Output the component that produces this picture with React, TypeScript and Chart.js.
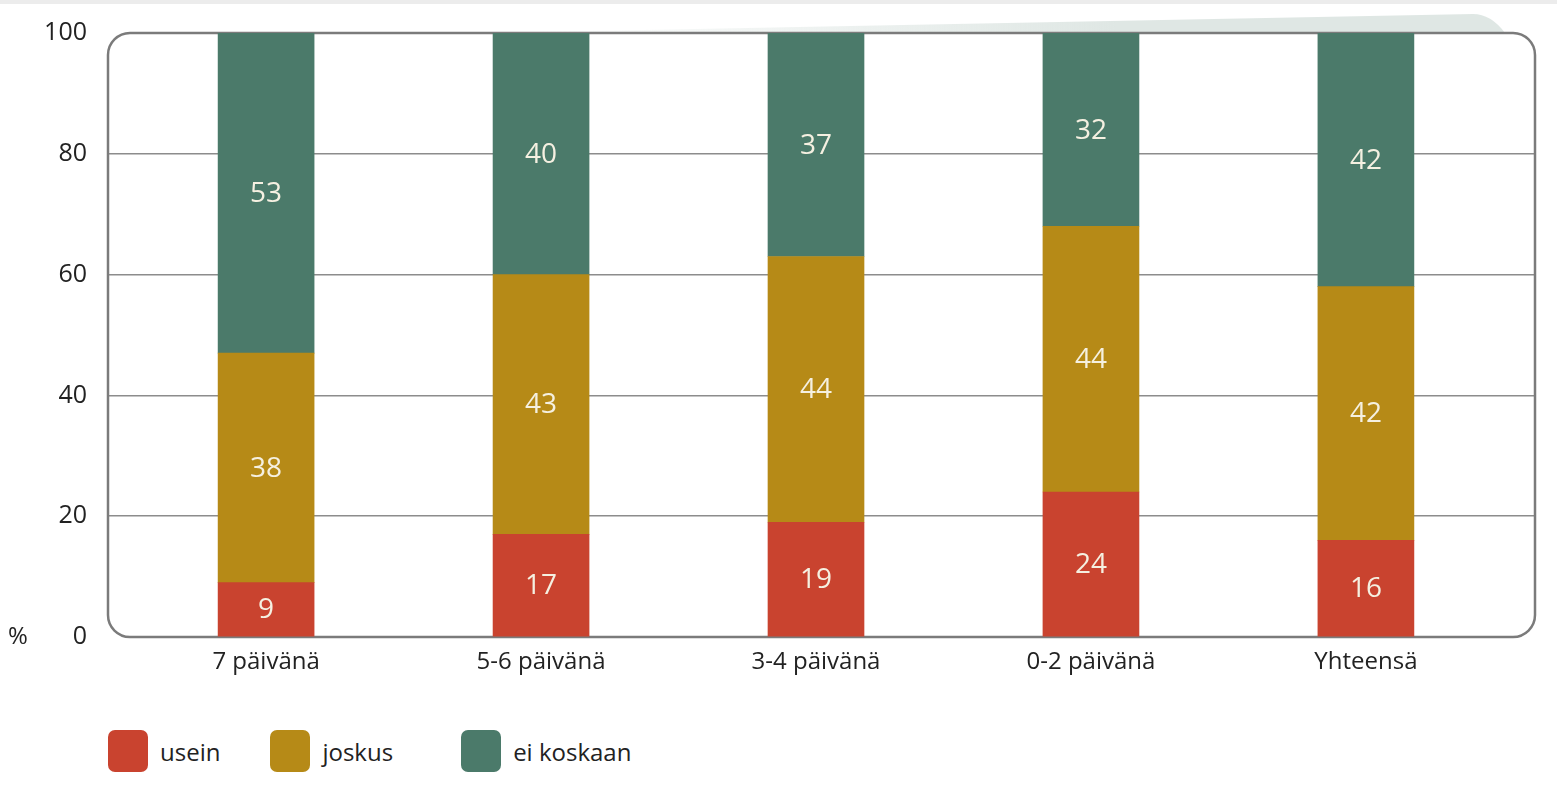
import React, { useEffect, useRef } from "react";
import { Chart, registerables } from "chart.js";

Chart.register(...registerables);

// Stacked shares (%) per group
const categories = ["7 päivänä", "5-6 päivänä", "3-4 päivänä", "0-2 päivänä", "Yhteensä"];
const usein = [9, 17, 19, 24, 16];
const joskus = [38, 43, 44, 44, 42];
const eiKoskaan = [53, 40, 37, 32, 42];
const seriesNames = ["usein", "joskus", "ei koskaan"];
const seriesColors = ["#c9432f", "#b68a17", "#4b7a6a"];
const yTickValues = [0, 20, 40, 60, 80, 100];
const unitLabel = "%";

const FONT = "'Open Sans', 'DejaVu Sans', sans-serif";
const TEXT = "#222222";

// Rounded frame around the plot plus the pale tab above its top edge
const framePlugin = {
  id: "frame",
  beforeDatasetsDraw(chart: any) {
    const { ctx, chartArea: a } = chart;
    ctx.save();
    const g = ctx.createLinearGradient(a.left + 380, 0, a.right - 420, 0);
    g.addColorStop(0, "rgba(223,231,228,0)");
    g.addColorStop(1, "rgba(223,231,228,1)");
    ctx.fillStyle = g;
    ctx.beginPath();
    ctx.moveTo(a.left + 380, a.top);
    ctx.lineTo(a.right - 62, a.top - 19);
    ctx.quadraticCurveTo(a.right - 44, a.top - 19, a.right - 30, a.top);
    ctx.closePath();
    ctx.fill();

    ctx.strokeStyle = "#7b7b7b";
    ctx.lineWidth = 2.5;
    ctx.beginPath();
    ctx.roundRect(a.left, a.top, a.right - a.left, a.bottom - a.top, 22);
    ctx.stroke();
    ctx.restore();
  },
  afterDraw(chart: any) {
    const { ctx, chartArea: a, scales } = chart;
    ctx.save();
    ctx.font = `24px ${FONT}`;
    ctx.fillStyle = TEXT;
    ctx.textAlign = "center";
    ctx.textBaseline = "middle";
    ctx.fillText(unitLabel, a.left - 90, scales.y.getPixelForValue(0));
    ctx.restore();
  },
};

// Value labels in the middle of each stacked segment
const valueLabelPlugin = {
  id: "valueLabels",
  afterDatasetsDraw(chart: any) {
    const { ctx } = chart;
    ctx.save();
    ctx.font = `28px ${FONT}`;
    ctx.fillStyle = "#f5f0e1";
    ctx.textAlign = "center";
    ctx.textBaseline = "middle";
    chart.data.datasets.forEach((ds: any, di: number) => {
      const meta = chart.getDatasetMeta(di);
      meta.data.forEach((bar: any, i: number) => {
        const v = ds.data[i].y;
        ctx.fillText(String(v), bar.x, (bar.y + bar.base) / 2 + 1);
      });
    });
    ctx.restore();
  },
};

const legendGaps = [50, 68, 0];

function Legend() {
  return (
    <div
      style={{
        position: "absolute",
        left: 108,
        top: 730,
        display: "flex",
        alignItems: "center",
        fontFamily: FONT,
        fontSize: 24,
        color: TEXT,
      }}
    >
      {seriesNames.map((name, i) => (
        <div key={name} style={{ display: "flex", alignItems: "center", marginRight: legendGaps[i] }}>
          <div
            style={{
              width: 40,
              height: 42,
              borderRadius: 7,
              background: seriesColors[i],
              marginRight: 12,
            }}
          />
          <span>{name}</span>
        </div>
      ))}
    </div>
  );
}

export default function App() {
  const canvasRef = useRef<HTMLCanvasElement | null>(null);

  useEffect(() => {
    if (!canvasRef.current) return;
    const series = [usein, joskus, eiKoskaan];
    const chart = new Chart(canvasRef.current, {
      type: "bar",
      data: {
        datasets: series.map((vals, si) => ({
          label: seriesNames[si],
          data: vals.map((v, i) => ({ x: i, y: v })),
          backgroundColor: seriesColors[si],
          borderWidth: 0,
          barThickness: 96,
        })),
      },
      options: {
        animation: false,
        responsive: false,
        maintainAspectRatio: false,
        layout: { padding: { top: 33, right: 22, left: 0, bottom: 0 } },
        plugins: {
          legend: { display: false },
          tooltip: { enabled: false },
        },
        scales: {
          x: {
            type: "linear",
            min: -0.575,
            max: 4.615,
            offset: false,
            stacked: true,
            grid: { display: false, drawTicks: false, offset: false },
            border: { display: false },
            afterBuildTicks: (s: any) => {
              s.ticks = categories.map((_, i) => ({ value: i }));
            },
            afterFit: (s: any) => {
              s.height = 63;
              s.paddingLeft = 0;
              s.paddingRight = 0;
            },
            ticks: {
              autoSkip: false,
              maxRotation: 0,
              padding: 11,
              color: TEXT,
              font: { family: FONT, size: 24 },
              callback: (v: any) => categories[v] ?? "",
            },
          },
          y: {
            type: "linear",
            min: 0,
            max: 100,
            stacked: true,
            afterBuildTicks: (s: any) => {
              s.ticks = yTickValues.map((v) => ({ value: v }));
            },
            afterFit: (s: any) => {
              s.width = 108;
              s.paddingTop = 0;
              s.paddingBottom = 0;
            },
            grid: {
              drawTicks: false,
              lineWidth: 1.5,
              color: (c: any) =>
                c.tick && (c.tick.value === 0 || c.tick.value === 100) ? "rgba(0,0,0,0)" : "#8c8c8c",
            },
            border: { display: false },
            ticks: {
              padding: 21,
              color: TEXT,
              font: { family: FONT, size: 25 },
            },
          },
        },
      },
      plugins: [framePlugin, valueLabelPlugin],
    } as any);
    return () => chart.destroy();
  }, []);

  return (
    <div
      style={{
        position: "absolute",
        left: 0,
        top: 0,
        width: 1557,
        height: 791,
        background: "#ffffff",
        overflow: "hidden",
      }}
    >
      <div style={{ position: "absolute", left: 0, top: 0, width: 1557, height: 4, background: "#ececec" }} />
      <canvas ref={canvasRef} width={1557} height={700} style={{ position: "absolute", left: 0, top: 0 }} />
      <Legend />
    </div>
  );
}
